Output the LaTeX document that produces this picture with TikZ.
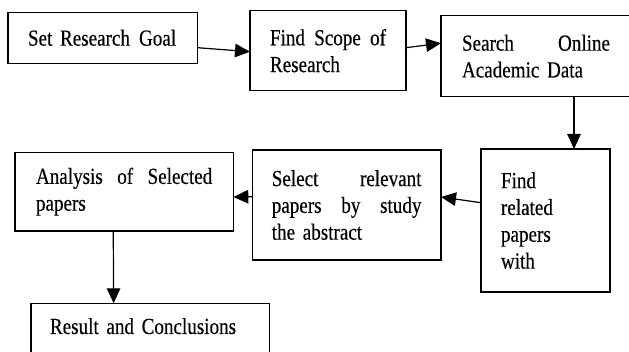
\documentclass[tikz,border=0pt]{standalone}
\usepackage{fontspec}
\setmainfont[FakeStretch=0.83,WordSpace=0.8,FakeBold=0.3]{Liberation Serif}
\usetikzlibrary{arrows.meta}
\begin{document}
\begin{tikzpicture}[x=1pt,y=-1pt,
  box/.style={draw=black, line width=1.2pt, rectangle, anchor=north west,
    outer sep=0pt, inner ysep=0pt, align=left,
    font=\fontsize{23}{26.8}\selectfont},
  flow/.style={draw=black, line width=1.2pt, -{Triangle[length=15pt,width=13.5pt]}}]
\useasboundingbox (0,0) rectangle (629,352);
\clip (0,0) rectangle (629,352);
\node[box, text width=149.5pt, inner xsep=20pt, minimum height=51pt] (goal) at (8,12.3) {\mbox{Set Research\hspace{9pt}Goal}};
\node[box, text width=116pt, inner xsep=20pt, minimum height=80pt] (scope) at (250,10.7) {Find\hfill Scope\hfill of\\Research};
\node[box, text width=148pt, inner xsep=21pt, minimum height=81pt] (search) at (441,15.7) {Search\hfill Online\\Academic Data};
\node[box, text width=89pt, inner xsep=20pt, minimum height=143pt] (related) at (481,149) {Find\\related\\papers\\with};
\node[box, text width=149.7pt, inner xsep=19.5pt, minimum height=110pt] (select) at (252.3,150) {Select\hfill relevant\\papers\hfill by\hfill study\\the abstract};
\node[box, text width=176.3pt, inner xsep=21pt, minimum height=78.7pt] (analysis) at (15,152.3) {Analysis\hfill of\hfill Selected\\papers};
\node[box, text width=200.3pt, inner xsep=19pt, text height=30.7pt, text depth=30pt] (result) at (31,303.3) {Result and Conclusions};
\draw[flow] ([yshift=-9.9pt]goal.east) -- ([yshift=-1pt]scope.west);
\draw[flow] ([yshift=3pt]scope.east) -- ([yshift=13pt]search.west);
\draw[flow] ([xshift=38pt]search.south) -- ([xshift=28.5pt]related.north);
\draw[flow] ([yshift=17.8pt]related.west) -- ([yshift=8pt]select.east);
\draw[flow] ([yshift=8.3pt]select.west) -- ([yshift=-5.3pt]analysis.east);
\draw[flow] ([xshift=-10.9pt]analysis.south) -- ([xshift=-36.5pt]result.north);
\end{tikzpicture}
\end{document}
